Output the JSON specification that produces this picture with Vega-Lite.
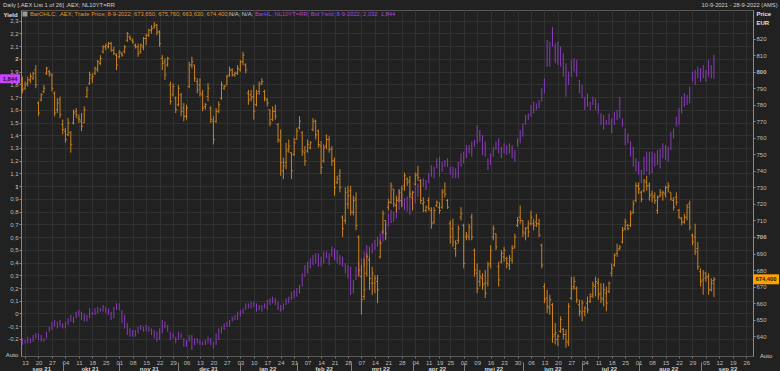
{
"$schema": "https://vega.github.io/schema/vega-lite/v6.json",
"width": 732, "height": 346,
"autosize": {"type": "none"},
"padding": {"left": 21, "top": 10, "right": 27, "bottom": 15},
"background": "#212121",
"config": {"view": {"stroke": "#5a5a5a", "strokeWidth": 1}, "font": "Liberation Sans", "axis": {"labelFont": "Liberation Sans", "titleFont": "Liberation Sans"}, "text": {"font": "Liberation Sans"}},
"data": {"values": [
{"d":"2021-09-10","o":795,"h":797,"l":787,"c":789,"yh":-0.195,"yl":-0.248},
{"d":"2021-09-13","o":790,"h":794,"l":789,"c":792,"yh":-0.208,"yl":-0.234},
{"d":"2021-09-14","o":793,"h":797,"l":791,"c":795,"yh":-0.182,"yl":-0.234},
{"d":"2021-09-15","o":795,"h":799,"l":793,"c":797,"yh":-0.195,"yl":-0.234},
{"d":"2021-09-16","o":796,"h":800,"l":795,"c":799,"yh":-0.169,"yl":-0.221},
{"d":"2021-09-17","o":801,"h":804,"l":790,"c":792,"yh":-0.156,"yl":-0.195},
{"d":"2021-09-20","o":781,"h":782,"l":773,"c":775,"yh":-0.156,"yl":-0.208},
{"d":"2021-09-21","o":783,"h":787,"l":782,"c":786,"yh":-0.169,"yl":-0.221},
{"d":"2021-09-22","o":788,"h":792,"l":787,"c":790,"yh":-0.195,"yl":-0.221},
{"d":"2021-09-23","o":799,"h":803,"l":798,"c":802,"yh":-0.143,"yl":-0.195},
{"d":"2021-09-24","o":800,"h":801,"l":797,"c":799,"yh":-0.104,"yl":-0.143},
{"d":"2021-09-27","o":798,"h":799,"l":788,"c":790,"yh":-0.064,"yl":-0.130},
{"d":"2021-09-28","o":787,"h":788,"l":773,"c":775,"yh":-0.051,"yl":-0.104},
{"d":"2021-09-29","o":777,"h":784,"l":775,"c":781,"yh":-0.064,"yl":-0.117},
{"d":"2021-09-30","o":783,"h":785,"l":772,"c":774,"yh":-0.051,"yl":-0.104},
{"d":"2021-10-01","o":768,"h":771,"l":762,"c":765,"yh":-0.077,"yl":-0.117},
{"d":"2021-10-04","o":764,"h":766,"l":757,"c":759,"yh":-0.064,"yl":-0.117},
{"d":"2021-10-05","o":762,"h":772,"l":761,"c":769,"yh":-0.038,"yl":-0.090},
{"d":"2021-10-06","o":763,"h":764,"l":751,"c":756,"yh":-0.012,"yl":-0.064},
{"d":"2021-10-07","o":769,"h":777,"l":768,"c":775,"yh":-0.025,"yl":-0.077},
{"d":"2021-10-08","o":776,"h":778,"l":772,"c":774,"yh":0.014,"yl":-0.038},
{"d":"2021-10-11","o":772,"h":774,"l":769,"c":771,"yh":0.027,"yl":-0.025},
{"d":"2021-10-12","o":770,"h":775,"l":764,"c":767,"yh":0.014,"yl":-0.051},
{"d":"2021-10-13","o":769,"h":779,"l":769,"c":777,"yh":0.001,"yl":-0.064},
{"d":"2021-10-14","o":785,"h":791,"l":784,"c":789,"yh":-0.012,"yl":-0.064},
{"d":"2021-10-15","o":793,"h":800,"l":792,"c":798,"yh":0.040,"yl":-0.038},
{"d":"2021-10-18","o":796,"h":799,"l":793,"c":797,"yh":0.014,"yl":-0.012},
{"d":"2021-10-19","o":799,"h":803,"l":798,"c":802,"yh":0.040,"yl":-0.012},
{"d":"2021-10-20","o":801,"h":807,"l":800,"c":806,"yh":0.053,"yl":0.001},
{"d":"2021-10-21","o":805,"h":810,"l":804,"c":808,"yh":0.040,"yl":0.014},
{"d":"2021-10-22","o":812,"h":816,"l":811,"c":815,"yh":0.067,"yl":0.014},
{"d":"2021-10-25","o":815,"h":817,"l":813,"c":816,"yh":0.053,"yl":0.001},
{"d":"2021-10-26","o":815,"h":818,"l":814,"c":817,"yh":0.040,"yl":-0.012},
{"d":"2021-10-27","o":817,"h":818,"l":812,"c":813,"yh":0.014,"yl":-0.051},
{"d":"2021-10-28","o":813,"h":815,"l":810,"c":811,"yh":0.053,"yl":-0.038},
{"d":"2021-10-29","o":810,"h":811,"l":801,"c":804,"yh":0.080,"yl":0.027},
{"d":"2021-11-01","o":809,"h":813,"l":808,"c":812,"yh":0.080,"yl":0.027},
{"d":"2021-11-02","o":811,"h":812,"l":809,"c":810,"yh":0.027,"yl":-0.077},
{"d":"2021-11-03","o":812,"h":816,"l":811,"c":815,"yh":-0.012,"yl":-0.117},
{"d":"2021-11-04","o":819,"h":824,"l":818,"c":823,"yh":-0.077,"yl":-0.169},
{"d":"2021-11-05","o":821,"h":822,"l":819,"c":820,"yh":-0.117,"yl":-0.182},
{"d":"2021-11-08","o":819,"h":820,"l":817,"c":818,"yh":-0.130,"yl":-0.182},
{"d":"2021-11-09","o":816,"h":817,"l":814,"c":815,"yh":-0.130,"yl":-0.182},
{"d":"2021-11-10","o":815,"h":817,"l":809,"c":811,"yh":-0.104,"yl":-0.156},
{"d":"2021-11-11","o":812,"h":817,"l":811,"c":816,"yh":-0.090,"yl":-0.130},
{"d":"2021-11-12","o":815,"h":821,"l":813,"c":820,"yh":-0.104,"yl":-0.143},
{"d":"2021-11-15","o":820,"h":823,"l":816,"c":822,"yh":-0.090,"yl":-0.143},
{"d":"2021-11-16","o":822,"h":826,"l":821,"c":825,"yh":-0.104,"yl":-0.143},
{"d":"2021-11-17","o":825,"h":828,"l":823,"c":826,"yh":-0.117,"yl":-0.169},
{"d":"2021-11-18","o":827,"h":830,"l":826,"c":828,"yh":-0.130,"yl":-0.195},
{"d":"2021-11-19","o":828,"h":829,"l":822,"c":824,"yh":-0.143,"yl":-0.221},
{"d":"2021-11-22","o":824,"h":825,"l":815,"c":817,"yh":-0.117,"yl":-0.208},
{"d":"2021-11-23","o":808,"h":810,"l":801,"c":805,"yh":-0.051,"yl":-0.156},
{"d":"2021-11-24","o":806,"h":808,"l":795,"c":798,"yh":-0.064,"yl":-0.117},
{"d":"2021-11-25","o":804,"h":809,"l":803,"c":808,"yh":-0.090,"yl":-0.143},
{"d":"2021-11-26","o":792,"h":794,"l":780,"c":782,"yh":-0.143,"yl":-0.208},
{"d":"2021-11-29","o":786,"h":793,"l":785,"c":791,"yh":-0.156,"yl":-0.195},
{"d":"2021-11-30","o":784,"h":785,"l":775,"c":777,"yh":-0.182,"yl":-0.234},
{"d":"2021-12-01","o":780,"h":792,"l":779,"c":790,"yh":-0.143,"yl":-0.208},
{"d":"2021-12-02","o":786,"h":787,"l":773,"c":776,"yh":-0.156,"yl":-0.195},
{"d":"2021-12-03","o":778,"h":781,"l":770,"c":773,"yh":-0.195,"yl":-0.261},
{"d":"2021-12-06","o":773,"h":780,"l":771,"c":778,"yh":-0.208,"yl":-0.261},
{"d":"2021-12-07","o":791,"h":806,"l":790,"c":804,"yh":-0.169,"yl":-0.221},
{"d":"2021-12-08","o":804,"h":809,"l":802,"c":806,"yh":-0.169,"yl":-0.287},
{"d":"2021-12-09","o":804,"h":804,"l":794,"c":796,"yh":-0.195,"yl":-0.248},
{"d":"2021-12-10","o":794,"h":796,"l":787,"c":789,"yh":-0.195,"yl":-0.234},
{"d":"2021-12-13","o":792,"h":796,"l":785,"c":787,"yh":-0.208,"yl":-0.248},
{"d":"2021-12-14","o":786,"h":789,"l":776,"c":778,"yh":-0.221,"yl":-0.248},
{"d":"2021-12-15","o":779,"h":781,"l":777,"c":780,"yh":-0.208,"yl":-0.248},
{"d":"2021-12-16","o":785,"h":793,"l":782,"c":790,"yh":-0.182,"yl":-0.234},
{"d":"2021-12-17","o":778,"h":779,"l":769,"c":771,"yh":-0.195,"yl":-0.248},
{"d":"2021-12-20","o":770,"h":773,"l":756,"c":759,"yh":-0.221,"yl":-0.274},
{"d":"2021-12-21","o":770,"h":778,"l":769,"c":776,"yh":-0.156,"yl":-0.248},
{"d":"2021-12-22","o":776,"h":782,"l":775,"c":780,"yh":-0.117,"yl":-0.208},
{"d":"2021-12-23","o":784,"h":794,"l":783,"c":792,"yh":-0.104,"yl":-0.156},
{"d":"2021-12-24","o":790,"h":792,"l":789,"c":791,"yh":-0.077,"yl":-0.130},
{"d":"2021-12-27","o":792,"h":798,"l":792,"c":797,"yh":-0.064,"yl":-0.104},
{"d":"2021-12-28","o":798,"h":803,"l":797,"c":801,"yh":-0.051,"yl":-0.104},
{"d":"2021-12-29","o":801,"h":802,"l":797,"c":798,"yh":-0.025,"yl":-0.064},
{"d":"2021-12-30","o":798,"h":800,"l":797,"c":799,"yh":-0.012,"yl":-0.051},
{"d":"2021-12-31","o":799,"h":804,"l":798,"c":802,"yh":0.014,"yl":-0.051},
{"d":"2022-01-03","o":801,"h":807,"l":800,"c":806,"yh":0.027,"yl":-0.025},
{"d":"2022-01-04","o":806,"h":812,"l":804,"c":810,"yh":0.040,"yl":0.001},
{"d":"2022-01-05","o":804,"h":805,"l":799,"c":801,"yh":0.080,"yl":0.027},
{"d":"2022-01-06","o":787,"h":789,"l":780,"c":783,"yh":0.080,"yl":0.040},
{"d":"2022-01-07","o":786,"h":789,"l":782,"c":784,"yh":0.093,"yl":0.040},
{"d":"2022-01-10","o":785,"h":792,"l":771,"c":776,"yh":0.093,"yl":0.053},
{"d":"2022-01-11","o":780,"h":789,"l":779,"c":787,"yh":0.080,"yl":0.014},
{"d":"2022-01-12","o":788,"h":794,"l":786,"c":792,"yh":0.067,"yl":0.027},
{"d":"2022-01-13","o":793,"h":796,"l":792,"c":794,"yh":0.067,"yl":0.014},
{"d":"2022-01-14","o":788,"h":789,"l":782,"c":784,"yh":0.080,"yl":0.040},
{"d":"2022-01-17","o":783,"h":784,"l":779,"c":781,"yh":0.107,"yl":0.027},
{"d":"2022-01-18","o":777,"h":777,"l":767,"c":769,"yh":0.119,"yl":0.067},
{"d":"2022-01-19","o":771,"h":779,"l":770,"c":776,"yh":0.132,"yl":0.080},
{"d":"2022-01-20","o":776,"h":780,"l":771,"c":773,"yh":0.119,"yl":0.067},
{"d":"2022-01-21","o":768,"h":769,"l":757,"c":759,"yh":0.093,"yl":0.027},
{"d":"2022-01-24","o":758,"h":765,"l":737,"c":745,"yh":0.067,"yl":0.014},
{"d":"2022-01-25","o":740,"h":748,"l":735,"c":743,"yh":0.080,"yl":0.027},
{"d":"2022-01-26","o":745,"h":757,"l":741,"c":752,"yh":0.119,"yl":0.067},
{"d":"2022-01-27","o":753,"h":759,"l":751,"c":755,"yh":0.132,"yl":0.080},
{"d":"2022-01-28","o":751,"h":751,"l":735,"c":740,"yh":0.171,"yl":0.106},
{"d":"2022-01-31","o":750,"h":760,"l":749,"c":757,"yh":0.184,"yl":0.119},
{"d":"2022-02-01","o":759,"h":766,"l":759,"c":764,"yh":0.198,"yl":0.132},
{"d":"2022-02-02","o":766,"h":773,"l":765,"c":770,"yh":0.224,"yl":0.158},
{"d":"2022-02-03","o":763,"h":764,"l":749,"c":752,"yh":0.315,"yl":0.211},
{"d":"2022-02-04","o":751,"h":755,"l":743,"c":746,"yh":0.381,"yl":0.289},
{"d":"2022-02-07","o":752,"h":759,"l":751,"c":756,"yh":0.407,"yl":0.315},
{"d":"2022-02-08","o":754,"h":758,"l":753,"c":757,"yh":0.433,"yl":0.355},
{"d":"2022-02-09","o":765,"h":772,"l":764,"c":770,"yh":0.459,"yl":0.381},
{"d":"2022-02-10","o":770,"h":771,"l":759,"c":762,"yh":0.472,"yl":0.394},
{"d":"2022-02-11","o":764,"h":765,"l":754,"c":756,"yh":0.472,"yl":0.368},
{"d":"2022-02-14","o":755,"h":758,"l":738,"c":742,"yh":0.446,"yl":0.368},
{"d":"2022-02-15","o":746,"h":756,"l":745,"c":754,"yh":0.486,"yl":0.394},
{"d":"2022-02-16","o":755,"h":762,"l":753,"c":759,"yh":0.486,"yl":0.433},
{"d":"2022-02-17","o":759,"h":761,"l":751,"c":753,"yh":0.472,"yl":0.381},
{"d":"2022-02-18","o":753,"h":755,"l":743,"c":746,"yh":0.525,"yl":0.446},
{"d":"2022-02-21","o":746,"h":748,"l":725,"c":730,"yh":0.512,"yl":0.420},
{"d":"2022-02-22","o":733,"h":737,"l":732,"c":735,"yh":0.499,"yl":0.394},
{"d":"2022-02-23","o":737,"h":741,"l":727,"c":730,"yh":0.459,"yl":0.381},
{"d":"2022-02-24","o":712,"h":713,"l":700,"c":705,"yh":0.446,"yl":0.368},
{"d":"2022-02-25","o":710,"h":730,"l":708,"c":727,"yh":0.394,"yl":0.315},
{"d":"2022-02-28","o":720,"h":731,"l":717,"c":725,"yh":0.381,"yl":0.276},
{"d":"2022-03-01","o":728,"h":731,"l":713,"c":715,"yh":0.368,"yl":0.145},
{"d":"2022-03-02","o":715,"h":725,"l":713,"c":722,"yh":0.263,"yl":0.158},
{"d":"2022-03-03","o":723,"h":727,"l":704,"c":707,"yh":0.368,"yl":0.263},
{"d":"2022-03-04","o":700,"h":701,"l":676,"c":680,"yh":0.407,"yl":0.289},
{"d":"2022-03-07","o":676,"h":683,"l":653,"c":662,"yh":0.433,"yl":0.315},
{"d":"2022-03-08","o":664,"h":687,"l":662,"c":668,"yh":0.486,"yl":0.368},
{"d":"2022-03-09","o":678,"h":690,"l":676,"c":688,"yh":0.538,"yl":0.433},
{"d":"2022-03-10","o":686,"h":688,"l":668,"c":675,"yh":0.525,"yl":0.446},
{"d":"2022-03-11","o":672,"h":682,"l":665,"c":678,"yh":0.551,"yl":0.473},
{"d":"2022-03-14","o":672,"h":677,"l":666,"c":675,"yh":0.577,"yl":0.499},
{"d":"2022-03-15","o":673,"h":677,"l":660,"c":668,"yh":0.603,"yl":0.525},
{"d":"2022-03-16","o":688,"h":698,"l":687,"c":696,"yh":0.630,"yl":0.551},
{"d":"2022-03-17","o":703,"h":716,"l":702,"c":714,"yh":0.656,"yl":0.564},
{"d":"2022-03-18","o":710,"h":710,"l":698,"c":702,"yh":0.700,"yl":0.580},
{"d":"2022-03-21","o":718,"h":723,"l":716,"c":721,"yh":0.787,"yl":0.682},
{"d":"2022-03-22","o":721,"h":733,"l":720,"c":731,"yh":0.813,"yl":0.708},
{"d":"2022-03-23","o":729,"h":729,"l":718,"c":720,"yh":0.800,"yl":0.721},
{"d":"2022-03-24","o":719,"h":725,"l":715,"c":722,"yh":0.865,"yl":0.747},
{"d":"2022-03-25","o":723,"h":729,"l":721,"c":727,"yh":0.970,"yl":0.813},
{"d":"2022-03-28","o":722,"h":731,"l":718,"c":729,"yh":0.944,"yl":0.839},
{"d":"2022-03-29","o":731,"h":739,"l":728,"c":737,"yh":0.905,"yl":0.813},
{"d":"2022-03-30","o":735,"h":736,"l":731,"c":733,"yh":0.918,"yl":0.800},
{"d":"2022-03-31","o":734,"h":737,"l":724,"c":726,"yh":0.957,"yl":0.774},
{"d":"2022-04-01","o":724,"h":728,"l":716,"c":727,"yh":0.918,"yl":0.813},
{"d":"2022-04-04","o":732,"h":739,"l":731,"c":737,"yh":0.996,"yl":0.865},
{"d":"2022-04-05","o":738,"h":743,"l":734,"c":736,"yh":1.022,"yl":0.918},
{"d":"2022-04-06","o":734,"h":735,"l":720,"c":722,"yh":1.049,"yl":0.944},
{"d":"2022-04-07","o":720,"h":724,"l":715,"c":721,"yh":1.062,"yl":0.996},
{"d":"2022-04-08","o":716,"h":719,"l":715,"c":718,"yh":1.049,"yl":0.970},
{"d":"2022-04-11","o":722,"h":724,"l":716,"c":717,"yh":1.101,"yl":1.022},
{"d":"2022-04-12","o":716,"h":718,"l":705,"c":708,"yh":1.166,"yl":1.075},
{"d":"2022-04-13","o":709,"h":718,"l":708,"c":716,"yh":1.153,"yl":1.062},
{"d":"2022-04-14","o":719,"h":722,"l":718,"c":721,"yh":1.219,"yl":1.140},
{"d":"2022-04-19","o":718,"h":721,"l":714,"c":716,"yh":1.232,"yl":1.075},
{"d":"2022-04-20","o":718,"h":729,"l":717,"c":727,"yh":1.193,"yl":1.114},
{"d":"2022-04-21","o":728,"h":733,"l":724,"c":726,"yh":1.206,"yl":1.153},
{"d":"2022-04-22","o":722,"h":723,"l":717,"c":718,"yh":1.219,"yl":1.153},
{"d":"2022-04-25","o":708,"h":710,"l":696,"c":700,"yh":1.153,"yl":1.088},
{"d":"2022-04-26","o":705,"h":711,"l":694,"c":697,"yh":1.153,"yl":1.062},
{"d":"2022-04-27","o":693,"h":698,"l":688,"c":696,"yh":1.140,"yl":1.062},
{"d":"2022-04-28","o":698,"h":707,"l":696,"c":705,"yh":1.193,"yl":1.062},
{"d":"2022-04-29","o":712,"h":718,"l":710,"c":714,"yh":1.258,"yl":1.153},
{"d":"2022-05-02","o":707,"h":708,"l":681,"c":684,"yh":1.271,"yl":1.179},
{"d":"2022-05-03","o":700,"h":703,"l":698,"c":701,"yh":1.323,"yl":1.219},
{"d":"2022-05-04","o":700,"h":708,"l":698,"c":706,"yh":1.323,"yl":1.258},
{"d":"2022-05-05","o":712,"h":714,"l":698,"c":700,"yh":1.350,"yl":1.232},
{"d":"2022-05-06","o":692,"h":693,"l":676,"c":680,"yh":1.363,"yl":1.310},
{"d":"2022-05-09","o":678,"h":684,"l":666,"c":669,"yh":1.481,"yl":1.337},
{"d":"2022-05-10","o":673,"h":680,"l":670,"c":676,"yh":1.441,"yl":1.350},
{"d":"2022-05-11","o":675,"h":678,"l":668,"c":671,"yh":1.402,"yl":1.245},
{"d":"2022-05-12","o":672,"h":680,"l":663,"c":666,"yh":1.350,"yl":1.232},
{"d":"2022-05-13","o":672,"h":685,"l":670,"c":683,"yh":1.219,"yl":1.127},
{"d":"2022-05-16","o":684,"h":695,"l":681,"c":692,"yh":1.258,"yl":1.166},
{"d":"2022-05-17","o":700,"h":707,"l":698,"c":705,"yh":1.310,"yl":1.232},
{"d":"2022-05-18","o":702,"h":702,"l":692,"c":694,"yh":1.350,"yl":1.284},
{"d":"2022-05-19","o":682,"h":685,"l":670,"c":674,"yh":1.376,"yl":1.258},
{"d":"2022-05-20","o":685,"h":692,"l":684,"c":690,"yh":1.310,"yl":1.219},
{"d":"2022-05-23","o":688,"h":694,"l":685,"c":692,"yh":1.337,"yl":1.258},
{"d":"2022-05-24","o":687,"h":688,"l":681,"c":684,"yh":1.323,"yl":1.245},
{"d":"2022-05-25","o":683,"h":689,"l":680,"c":687,"yh":1.337,"yl":1.258},
{"d":"2022-05-26","o":686,"h":695,"l":684,"c":693,"yh":1.323,"yl":1.219},
{"d":"2022-05-27","o":694,"h":702,"l":693,"c":700,"yh":1.284,"yl":1.193},
{"d":"2022-05-30","o":707,"h":712,"l":706,"c":710,"yh":1.376,"yl":1.310},
{"d":"2022-05-31","o":712,"h":719,"l":708,"c":710,"yh":1.441,"yl":1.337},
{"d":"2022-06-01","o":710,"h":710,"l":700,"c":703,"yh":1.494,"yl":1.389},
{"d":"2022-06-02","o":702,"h":706,"l":698,"c":705,"yh":1.559,"yl":1.481},
{"d":"2022-06-03","o":706,"h":710,"l":700,"c":703,"yh":1.572,"yl":1.520},
{"d":"2022-06-06","o":708,"h":716,"l":707,"c":712,"yh":1.638,"yl":1.546},
{"d":"2022-06-07","o":708,"h":711,"l":704,"c":707,"yh":1.664,"yl":1.572},
{"d":"2022-06-08","o":709,"h":714,"l":706,"c":708,"yh":1.651,"yl":1.598},
{"d":"2022-06-09","o":708,"h":711,"l":700,"c":701,"yh":1.677,"yl":1.612},
{"d":"2022-06-10","o":695,"h":696,"l":681,"c":683,"yh":1.769,"yl":1.664},
{"d":"2022-06-13","o":670,"h":672,"l":660,"c":662,"yh":1.847,"yl":1.729},
{"d":"2022-06-14","o":663,"h":668,"l":654,"c":658,"yh":2.148,"yl":1.939},
{"d":"2022-06-15","o":657,"h":665,"l":653,"c":662,"yh":2.135,"yl":1.939},
{"d":"2022-06-16","o":659,"h":660,"l":636,"c":640,"yh":2.250,"yl":2.096},
{"d":"2022-06-17","o":641,"h":648,"l":635,"c":642,"yh":2.122,"yl":1.965},
{"d":"2022-06-20","o":638,"h":641,"l":634,"c":640,"yh":2.135,"yl":1.952},
{"d":"2022-06-21","o":643,"h":652,"l":642,"c":650,"yh":2.096,"yl":1.939},
{"d":"2022-06-22","o":644,"h":645,"l":638,"c":641,"yh":2.044,"yl":1.860},
{"d":"2022-06-23","o":641,"h":644,"l":633,"c":637,"yh":1.965,"yl":1.703},
{"d":"2022-06-24","o":636,"h":660,"l":634,"c":658,"yh":1.900,"yl":1.795},
{"d":"2022-06-27","o":663,"h":676,"l":662,"c":669,"yh":1.991,"yl":1.860},
{"d":"2022-06-28","o":670,"h":676,"l":668,"c":673,"yh":2.004,"yl":1.900},
{"d":"2022-06-29","o":669,"h":670,"l":660,"c":662,"yh":1.991,"yl":1.860},
{"d":"2022-06-30","o":659,"h":662,"l":652,"c":655,"yh":1.834,"yl":1.729},
{"d":"2022-07-01","o":654,"h":662,"l":649,"c":660,"yh":1.795,"yl":1.690},
{"d":"2022-07-04","o":655,"h":658,"l":652,"c":657,"yh":1.703,"yl":1.598},
{"d":"2022-07-05","o":660,"h":664,"l":654,"c":656,"yh":1.729,"yl":1.625},
{"d":"2022-07-06","o":661,"h":666,"l":660,"c":664,"yh":1.664,"yl":1.598},
{"d":"2022-07-07","o":665,"h":673,"l":663,"c":671,"yh":1.703,"yl":1.638},
{"d":"2022-07-08","o":670,"h":676,"l":664,"c":673,"yh":1.690,"yl":1.598},
{"d":"2022-07-11","o":672,"h":675,"l":662,"c":665,"yh":1.651,"yl":1.572},
{"d":"2022-07-12","o":666,"h":672,"l":660,"c":663,"yh":1.572,"yl":1.481},
{"d":"2022-07-13","o":662,"h":672,"l":658,"c":668,"yh":1.559,"yl":1.441},
{"d":"2022-07-14","o":666,"h":670,"l":655,"c":660,"yh":1.520,"yl":1.481},
{"d":"2022-07-15","o":667,"h":673,"l":666,"c":672,"yh":1.572,"yl":1.481},
{"d":"2022-07-18","o":678,"h":684,"l":676,"c":681,"yh":1.533,"yl":1.415},
{"d":"2022-07-19","o":683,"h":690,"l":682,"c":689,"yh":1.585,"yl":1.481},
{"d":"2022-07-20","o":690,"h":696,"l":688,"c":692,"yh":1.598,"yl":1.520},
{"d":"2022-07-21","o":693,"h":695,"l":692,"c":694,"yh":1.703,"yl":1.533},
{"d":"2022-07-22","o":697,"h":706,"l":696,"c":704,"yh":1.533,"yl":1.468},
{"d":"2022-07-25","o":705,"h":711,"l":704,"c":709,"yh":1.454,"yl":1.323},
{"d":"2022-07-26","o":707,"h":708,"l":704,"c":705,"yh":1.415,"yl":1.337},
{"d":"2022-07-27","o":707,"h":716,"l":706,"c":714,"yh":1.350,"yl":1.232},
{"d":"2022-07-28","o":715,"h":722,"l":714,"c":720,"yh":1.310,"yl":1.153},
{"d":"2022-07-29","o":722,"h":733,"l":721,"c":731,"yh":1.219,"yl":1.114},
{"d":"2022-08-01","o":731,"h":733,"l":726,"c":729,"yh":1.193,"yl":1.088},
{"d":"2022-08-02","o":727,"h":728,"l":721,"c":723,"yh":1.127,"yl":1.022},
{"d":"2022-08-03","o":728,"h":735,"l":727,"c":734,"yh":1.232,"yl":1.088},
{"d":"2022-08-04","o":733,"h":737,"l":728,"c":731,"yh":1.271,"yl":1.114},
{"d":"2022-08-05","o":731,"h":733,"l":722,"c":725,"yh":1.271,"yl":1.088},
{"d":"2022-08-08","o":726,"h":728,"l":721,"c":724,"yh":1.271,"yl":1.101},
{"d":"2022-08-09","o":725,"h":727,"l":720,"c":722,"yh":1.258,"yl":1.153},
{"d":"2022-08-10","o":716,"h":725,"l":714,"c":724,"yh":1.284,"yl":1.166},
{"d":"2022-08-11","o":725,"h":729,"l":724,"c":727,"yh":1.297,"yl":1.140},
{"d":"2022-08-12","o":726,"h":728,"l":722,"c":727,"yh":1.337,"yl":1.219},
{"d":"2022-08-15","o":726,"h":731,"l":724,"c":730,"yh":1.323,"yl":1.206},
{"d":"2022-08-16","o":730,"h":733,"l":727,"c":731,"yh":1.310,"yl":1.193},
{"d":"2022-08-17","o":727,"h":727,"l":722,"c":723,"yh":1.428,"yl":1.284},
{"d":"2022-08-18","o":722,"h":724,"l":716,"c":718,"yh":1.454,"yl":1.376},
{"d":"2022-08-19","o":724,"h":727,"l":719,"c":721,"yh":1.546,"yl":1.468},
{"d":"2022-08-22","o":716,"h":717,"l":711,"c":712,"yh":1.612,"yl":1.481},
{"d":"2022-08-23","o":711,"h":712,"l":707,"c":709,"yh":1.703,"yl":1.572},
{"d":"2022-08-24","o":709,"h":714,"l":708,"c":712,"yh":1.729,"yl":1.625},
{"d":"2022-08-25","o":712,"h":720,"l":710,"c":718,"yh":1.716,"yl":1.638},
{"d":"2022-08-26","o":720,"h":722,"l":704,"c":706,"yh":1.782,"yl":1.651},
{"d":"2022-08-29","o":701,"h":702,"l":695,"c":697,"yh":1.900,"yl":1.821},
{"d":"2022-08-30","o":700,"h":708,"l":689,"c":691,"yh":1.913,"yl":1.795},
{"d":"2022-08-31","o":693,"h":697,"l":680,"c":682,"yh":1.939,"yl":1.847},
{"d":"2022-09-01","o":679,"h":681,"l":670,"c":673,"yh":1.926,"yl":1.821},
{"d":"2022-09-02","o":674,"h":680,"l":665,"c":678,"yh":1.952,"yl":1.847},
{"d":"2022-09-05","o":675,"h":679,"l":673,"c":676,"yh":1.913,"yl":1.821},
{"d":"2022-09-06","o":676,"h":678,"l":665,"c":668,"yh":1.991,"yl":1.860},
{"d":"2022-09-07","o":668,"h":675,"l":667,"c":672,"yh":1.952,"yl":1.847},
{"d":"2022-09-08","o":673.65,"h":675.76,"l":663.63,"c":674.4,"yh":2.032,"yl":1.844},
{"d":"2022-09-09"},{"d":"2022-09-12"},{"d":"2022-09-13"},{"d":"2022-09-14"},{"d":"2022-09-15"},{"d":"2022-09-16"},
{"d":"2022-09-19"},{"d":"2022-09-20"},{"d":"2022-09-21"},{"d":"2022-09-22"},{"d":"2022-09-23"},
{"d":"2022-09-26"},{"d":"2022-09-27"},{"d":"2022-09-28"}
]},
"layer": [
{"mark": {"type": "rule", "opacity": 0},
 "encoding": {"x": {"field": "d", "type": "ordinal", "scale": {"type": "point", "padding": 0.5},
   "axis": {"orient": "bottom", "values": ["2021-09-13","2021-09-20","2021-09-27","2021-10-04","2021-10-11","2021-10-18","2021-10-25","2021-11-01","2021-11-08","2021-11-15","2021-11-22","2021-11-29","2021-12-06","2021-12-13","2021-12-20","2021-12-27","2022-01-03","2022-01-10","2022-01-17","2022-01-24","2022-01-31","2022-02-07","2022-02-14","2022-02-21","2022-02-28","2022-03-07","2022-03-14","2022-03-21","2022-03-28","2022-04-04","2022-04-11","2022-04-19","2022-04-25","2022-05-02","2022-05-09","2022-05-16","2022-05-23","2022-05-30","2022-06-06","2022-06-13","2022-06-20","2022-06-27","2022-07-04","2022-07-11","2022-07-18","2022-07-25","2022-08-01","2022-08-08","2022-08-15","2022-08-22","2022-08-29","2022-09-05","2022-09-12","2022-09-19","2022-09-26"],
     "labelExpr": "substring(datum.value, 8, 10)", "grid": true, "gridColor": "#313131", "domain": false, "ticks": true, "tickSize": 2, "tickColor": "#777777", "labelFontSize": 6, "labelColor": "#bdbdbd", "labelPadding": 1, "labelOverlap": false, "labelAngle": 0, "labelFlush": false, "title": null}}}},
{"mark": {"type": "rule", "color": "#8a3bbb", "strokeWidth": 1},
 "encoding": {
   "x": {"field": "d", "type": "ordinal", "scale": {"type": "point", "padding": 0.5},
     "axis": {"orient": "bottom", "values": ["2021-09-21","2021-10-15","2021-11-16","2021-12-16","2022-01-17","2022-02-15","2022-03-16","2022-04-14","2022-05-17","2022-06-16","2022-07-15","2022-08-16","2022-09-15"],
       "labelExpr": "['jan','feb','mrt','apr','mei','jun','jul','aug','sep','okt','nov','dec'][toNumber(substring(datum.value,5,7))-1] + ' ' + substring(datum.value,2,4)",
       "grid": false, "domain": false, "ticks": false, "labelPadding": 9, "labelFontSize": 6, "labelFontWeight": "bold", "labelColor": "#d4d4d4", "labelOverlap": false, "labelAngle": 0, "labelFlush": false, "title": null}},
   "y": {"field": "yh", "type": "quantitative", "scale": {"domain": [-0.334, 2.384], "nice": false, "zero": false},
     "axis": {"orient": "left", "values": [-0.2,-0.1,0,0.1,0.2,0.3,0.4,0.5,0.6,0.7,0.8,0.9,1,1.1,1.2,1.3,1.4,1.5,1.6,1.7,1.8,1.9,2,2.1,2.2,2.3],
       "labelExpr": "replace(datum.value == round(datum.value) ? format(datum.value, 'd') : replace(format(datum.value, '.1f'), '.', ','), '\u2212', '-')",
       "labelFontSize": 6, "labelColor": "#bdbdbd", "labelFontWeight": {"condition": {"test": "datum.value == 1 || datum.value == 2", "value": "bold"}, "value": "normal"},
       "labelPadding": 1, "tickSize": 2, "tickColor": "#8a8a8a", "domainColor": "#8a8a8a", "grid": true, "gridColor": "#313131", "labelOverlap": false, "labelFlush": false,
       "title": "Yield", "titleAngle": 0, "titleX": -18, "titleY": 4, "titleAlign": "left", "titleBaseline": "middle", "titleFontSize": 6, "titleColor": "#e0e0e0", "titleFontWeight": "bold"}},
   "y2": {"field": "yl"}}},
{"mark": {"type": "rule", "color": "#cc8420", "strokeWidth": 1},
 "encoding": {
   "x": {"field": "d", "type": "ordinal", "scale": {"type": "point", "padding": 0.5},
     "axis": {"orient": "bottom", "values": ["2021-10-01","2021-11-01","2021-12-01","2022-01-03","2022-02-01","2022-03-01","2022-04-01","2022-05-02","2022-06-01","2022-07-01","2022-08-01","2022-09-01"],
       "labels": false, "grid": false, "domain": false, "ticks": true, "tickSize": 9, "offset": 6, "tickColor": "#808080", "title": null}},
   "y": {"field": "h", "type": "quantitative", "scale": {"domain": [628, 837.3], "nice": false, "zero": false},
     "axis": {"orient": "right", "values": [640,650,660,670,680,690,700,710,720,730,740,750,760,770,780,790,800,810,820], "format": "d",
       "labelFontSize": 6, "labelColor": "#bdbdbd", "labelFontWeight": {"condition": {"test": "datum.value == 700 || datum.value == 800", "value": "bold"}, "value": "normal"},
       "labelPadding": 1, "tickSize": 2, "tickColor": "#8a8a8a", "domainColor": "#8a8a8a", "grid": false, "labelOverlap": false, "labelFlush": false,
       "title": ["Price", "EUR"], "titleAngle": 0, "titleX": 3, "titleY": 0, "titleAlign": "left", "titleBaseline": "top", "titleFontSize": 6, "titleColor": "#e0e0e0", "titleFontWeight": "bold", "titleLineHeight": 9}},
   "y2": {"field": "l"}}},
{"mark": {"type": "tick", "orient": "horizontal", "size": 1.5, "thickness": 1, "xOffset": -0.75, "color": "#cc8420", "opacity": 0.9},
 "encoding": {
   "x": {"field": "d", "type": "ordinal", "scale": {"type": "point", "padding": 0.5}, "axis": null},
   "y": {"field": "o", "type": "quantitative", "scale": {"domain": [628, 837.3], "nice": false, "zero": false}, "axis": null}}},
{"mark": {"type": "tick", "orient": "horizontal", "size": 1.5, "thickness": 1, "xOffset": 0.75, "color": "#cc8420", "opacity": 0.9},
 "encoding": {
   "x": {"field": "d", "type": "ordinal", "scale": {"type": "point", "padding": 0.5}, "axis": null},
   "y": {"field": "c", "type": "quantitative", "scale": {"domain": [628, 837.3], "nice": false, "zero": false}, "axis": null}}},
{"transform": [{"filter": "datum.d == '2021-09-10'"}],
 "mark": {"type": "text", "text": "Daily [.AEX List 1 of 26] .AEX; NL10YT=RR", "align": "left", "baseline": "middle", "dx": -19.4, "fontSize": 5.8, "color": "#d0d0d0"},
 "encoding": {"x": {"field": "d", "type": "ordinal", "scale": {"type": "point", "padding": 0.5}, "axis": null},
   "y": {"datum": 2.427, "type": "quantitative", "scale": {"domain": [-0.334, 2.384], "nice": false, "zero": false}, "axis": null}}},
{"transform": [{"filter": "datum.d == '2022-09-28'"}],
 "mark": {"type": "text", "text": "10-9-2021 - 28-9-2022 (AMS)", "align": "right", "baseline": "middle", "dx": 26, "fontSize": 5.8, "color": "#d0d0d0"},
 "encoding": {"x": {"field": "d", "type": "ordinal", "scale": {"type": "point", "padding": 0.5}, "axis": null},
   "y": {"datum": 2.427, "type": "quantitative", "scale": {"domain": [-0.334, 2.384], "nice": false, "zero": false}, "axis": null}}},
{"transform": [{"filter": "datum.d == '2021-09-10'"}],
 "mark": {"type": "tick", "orient": "horizontal", "size": 5, "thickness": 5, "xOffset": 2.6, "color": "#9a9a9a", "opacity": 1},
 "encoding": {"x": {"field": "d", "type": "ordinal", "scale": {"type": "point", "padding": 0.5}, "axis": null},
   "y": {"datum": 2.353, "type": "quantitative", "scale": {"domain": [-0.334, 2.384], "nice": false, "zero": false}, "axis": null}}},
{"transform": [{"filter": "datum.d == '2021-09-10'"}],
 "mark": {"type": "text", "text": "BarOHLC; .AEX; Trade Price; 8-9-2022; 673,650; 675,760; 663,630; 674,400;", "align": "left", "baseline": "middle", "dx": 7.6, "fontSize": 5.8, "color": "#e0922a"},
 "encoding": {"x": {"field": "d", "type": "ordinal", "scale": {"type": "point", "padding": 0.5}, "axis": null},
   "y": {"datum": 2.353, "type": "quantitative", "scale": {"domain": [-0.334, 2.384], "nice": false, "zero": false}, "axis": null}}},
{"transform": [{"filter": "datum.d == '2021-09-10'"}],
 "mark": {"type": "text", "text": "N/A; N/A;", "align": "left", "baseline": "middle", "dx": 206.6, "fontSize": 5.8, "color": "#d0d0d0"},
 "encoding": {"x": {"field": "d", "type": "ordinal", "scale": {"type": "point", "padding": 0.5}, "axis": null},
   "y": {"datum": 2.353, "type": "quantitative", "scale": {"domain": [-0.334, 2.384], "nice": false, "zero": false}, "axis": null}}},
{"transform": [{"filter": "datum.d == '2021-09-10'"}],
 "mark": {"type": "text", "text": "BarHL; NL10YT=RR; Bid Yield; 8-9-2022; 2,032; 1,844", "align": "left", "baseline": "middle", "dx": 232.6, "fontSize": 5.8, "color": "#a846dc"},
 "encoding": {"x": {"field": "d", "type": "ordinal", "scale": {"type": "point", "padding": 0.5}, "axis": null},
   "y": {"datum": 2.353, "type": "quantitative", "scale": {"domain": [-0.334, 2.384], "nice": false, "zero": false}, "axis": null}}},
{"transform": [{"filter": "datum.d == '2021-09-10'"}],
 "mark": {"type": "tick", "orient": "horizontal", "size": 20, "thickness": 9, "xOffset": -12.35, "color": "#c444ff", "opacity": 1},
 "encoding": {"x": {"field": "d", "type": "ordinal", "scale": {"type": "point", "padding": 0.5}, "axis": null},
   "y": {"datum": 1.844, "type": "quantitative", "scale": {"domain": [-0.334, 2.384], "nice": false, "zero": false}, "axis": null}}},
{"transform": [{"filter": "datum.d == '2021-09-10'"}],
 "mark": {"type": "text", "text": "1,844", "align": "center", "baseline": "middle", "dx": -12.35, "fontSize": 5.8, "fontWeight": "bold", "color": "#1a1a1a"},
 "encoding": {"x": {"field": "d", "type": "ordinal", "scale": {"type": "point", "padding": 0.5}, "axis": null},
   "y": {"datum": 1.844, "type": "quantitative", "scale": {"domain": [-0.334, 2.384], "nice": false, "zero": false}, "axis": null}}},
{"transform": [{"filter": "datum.d == '2022-09-28'"}],
 "mark": {"type": "tick", "orient": "horizontal", "size": 26, "thickness": 10, "xOffset": 14.4, "color": "#ffa200", "opacity": 1},
 "encoding": {"x": {"field": "d", "type": "ordinal", "scale": {"type": "point", "padding": 0.5}, "axis": null},
   "y": {"datum": 674.4, "type": "quantitative", "scale": {"domain": [628, 837.3], "nice": false, "zero": false}, "axis": null}}},
{"transform": [{"filter": "datum.d == '2022-09-28'"}],
 "mark": {"type": "text", "text": "674,400", "align": "center", "baseline": "middle", "dx": 14.4, "fontSize": 5.8, "fontWeight": "bold", "color": "#1a1a1a"},
 "encoding": {"x": {"field": "d", "type": "ordinal", "scale": {"type": "point", "padding": 0.5}, "axis": null},
   "y": {"datum": 674.4, "type": "quantitative", "scale": {"domain": [628, 837.3], "nice": false, "zero": false}, "axis": null}}},
{"transform": [{"filter": "datum.d == '2021-09-10'"}],
 "mark": {"type": "text", "text": "Auto", "align": "center", "baseline": "middle", "dx": -10.3, "dy": -1, "fontSize": 6, "color": "#d0d0d0"},
 "encoding": {"x": {"field": "d", "type": "ordinal", "scale": {"type": "point", "padding": 0.5}, "axis": null},
   "y": {"datum": -0.334, "type": "quantitative", "scale": {"domain": [-0.334, 2.384], "nice": false, "zero": false}, "axis": null}}},
{"transform": [{"filter": "datum.d == '2022-09-28'"}],
 "mark": {"type": "text", "text": "Auto", "align": "center", "baseline": "middle", "dx": 14.4, "dy": 0, "fontSize": 6, "color": "#d0d0d0"},
 "encoding": {"x": {"field": "d", "type": "ordinal", "scale": {"type": "point", "padding": 0.5}, "axis": null},
   "y": {"datum": -0.334, "type": "quantitative", "scale": {"domain": [-0.334, 2.384], "nice": false, "zero": false}, "axis": null}}}
],
"resolve": {"scale": {"y": "independent"}, "axis": {"x": "independent", "y": "independent"}}
}
